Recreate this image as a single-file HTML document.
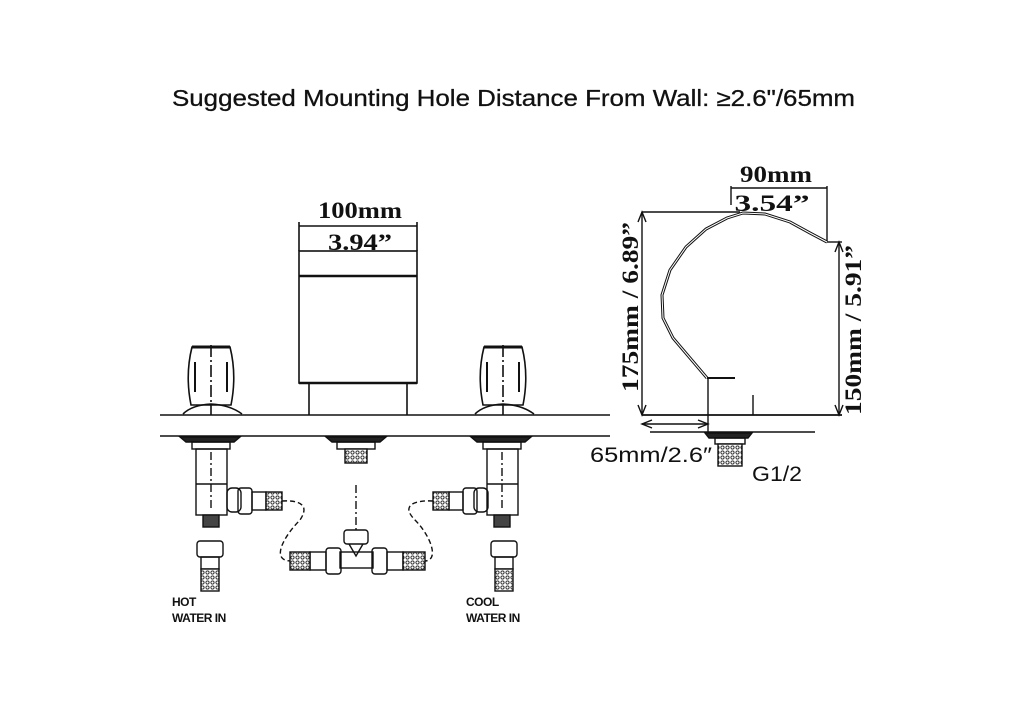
<!DOCTYPE html>
<html><head><meta charset="utf-8"><style>
html,body{margin:0;padding:0;background:#fff;}
svg{display:block}
</style></head><body>
<svg width="1024" height="717" viewBox="0 0 1024 717" xmlns="http://www.w3.org/2000/svg">
<defs>
<pattern id="mesh" width="5" height="5" patternUnits="userSpaceOnUse">
<rect width="5" height="5" fill="#fff"/><circle cx="2.5" cy="2.5" r="1.6" fill="none" stroke="#222" stroke-width="0.9"/>
</pattern>
</defs>
<text x="172" y="106" textLength="683" lengthAdjust="spacingAndGlyphs" font-family="Liberation Sans, sans-serif" font-size="23" fill="#111" stroke="#111" stroke-width="0.3">Suggested Mounting Hole Distance From Wall: ≥2.6"/65mm</text>

<g fill="none" stroke="#111" stroke-width="1.6">
<line x1="160" y1="415" x2="610" y2="415"/>
<line x1="160" y1="436" x2="610" y2="436"/>
<rect x="299" y="251" width="118" height="132"/>
<line x1="299" y1="276" x2="417" y2="276" stroke-width="2.5"/>
<line x1="299" y1="383" x2="417" y2="383" stroke-width="2.5"/>
<line x1="309" y1="383" x2="309" y2="415"/>
<line x1="407" y1="383" x2="407" y2="415"/>
<line x1="299" y1="222" x2="299" y2="251"/>
<line x1="417" y1="222" x2="417" y2="251"/>
<line x1="299" y1="226" x2="417" y2="226"/>
</g>
<g font-family="Liberation Serif, serif" font-size="23" font-weight="bold" fill="#111" text-anchor="middle">
<text x="360" y="218" textLength="84" lengthAdjust="spacingAndGlyphs">100mm</text>
<text x="360" y="250" textLength="64" lengthAdjust="spacingAndGlyphs">3.94”</text>
</g>

<g fill="none" stroke="#111" stroke-width="1.6">
<g>
<path d="M192 347 Q185 375 191 405 L231 405 Q237 375 230 347 Z" fill="#fff"/>
<line x1="192" y1="347" x2="230" y2="347" stroke-width="3"/>
<line x1="195" y1="362" x2="195" y2="392" stroke-width="2"/>
<line x1="227" y1="362" x2="227" y2="392" stroke-width="2"/>
<line x1="211" y1="345" x2="211" y2="415" stroke-dasharray="12 3 2 3"/>
<path d="M183 414 Q192 405 211 404 Q230 405 242 414"/>
</g>
<g transform="translate(292,0)">
<path d="M192 347 Q185 375 191 405 L231 405 Q237 375 230 347 Z" fill="#fff"/>
<line x1="192" y1="347" x2="230" y2="347" stroke-width="3"/>
<line x1="195" y1="362" x2="195" y2="392" stroke-width="2"/>
<line x1="227" y1="362" x2="227" y2="392" stroke-width="2"/>
<line x1="211" y1="345" x2="211" y2="415" stroke-dasharray="12 3 2 3"/>
<path d="M183 414 Q192 405 211 404 Q230 405 242 414"/>
</g>
</g>

<g fill="none" stroke="#111" stroke-width="1.4">
<g>
<path d="M180 437 L240 437 L234 442 L186 442 Z" fill="#222"/>
<rect x="192" y="442" width="38" height="7"/>
<rect x="196" y="449" width="31" height="66"/>
<line x1="196" y1="484" x2="227" y2="484"/>
<line x1="211" y1="452" x2="211" y2="510" stroke-dasharray="8 3 2 3"/>
<rect x="203" y="515" width="16" height="12" fill="#444"/>
<rect x="227" y="488" width="14" height="24" rx="5"/>
<rect x="238" y="488" width="14" height="26" rx="3"/>
<rect x="252" y="492" width="14" height="18"/>
<rect x="266" y="492" width="16" height="18" fill="url(#mesh)"/>
<rect x="197" y="541" width="26" height="16" rx="3"/>
<rect x="201" y="557" width="18" height="12"/>
<rect x="201" y="569" width="18" height="22" fill="url(#mesh)"/>
</g>
<g>
<path d="M471 437 L531 437 L525 442 L477 442 Z" fill="#222"/>
<rect x="483" y="442" width="38" height="7"/>
<rect x="487" y="449" width="31" height="66"/>
<line x1="487" y1="484" x2="518" y2="484"/>
<line x1="502" y1="452" x2="502" y2="510" stroke-dasharray="8 3 2 3"/>
<rect x="494" y="515" width="16" height="12" fill="#444"/>
<rect x="474" y="488" width="14" height="24" rx="5"/>
<rect x="463" y="488" width="14" height="26" rx="3"/>
<rect x="449" y="492" width="14" height="18"/>
<rect x="433" y="492" width="16" height="18" fill="url(#mesh)"/>
<rect x="491" y="541" width="26" height="16" rx="3"/>
<rect x="495" y="557" width="18" height="12"/>
<rect x="495" y="569" width="18" height="22" fill="url(#mesh)"/>
</g>
<path d="M326 437 L386 437 L380 442 L332 442 Z" fill="#222"/>
<rect x="337" y="442" width="38" height="7"/>
<rect x="345" y="449" width="22" height="14" fill="url(#mesh)"/>
<line x1="356" y1="485" x2="356" y2="530" stroke-dasharray="8 3 2 3"/>
<rect x="344" y="530" width="24" height="14" rx="3"/>
<path d="M349 544 L356 556 L363 544"/>
<rect x="340" y="552" width="33" height="16"/>
<rect x="326" y="548" width="15" height="26" rx="3"/>
<rect x="372" y="548" width="15" height="26" rx="3"/>
<rect x="310" y="552" width="16" height="18"/>
<rect x="387" y="552" width="16" height="18"/>
<rect x="290" y="552" width="20" height="18" fill="url(#mesh)"/>
<rect x="403" y="552" width="22" height="18" fill="url(#mesh)"/>
<path d="M282 501 C300 500 310 505 300 520 C285 535 270 560 290 561" stroke-dasharray="5 3"/>
<path d="M433 501 C415 500 400 505 415 520 C430 535 440 560 425 561" stroke-dasharray="5 3"/>
</g>
<g font-family="Liberation Sans, sans-serif" font-size="12" font-weight="bold" fill="#111" letter-spacing="-0.5">
<text x="172" y="606">HOT</text>
<text x="172" y="622">WATER IN</text>
<text x="466" y="606">COOL</text>
<text x="466" y="622">WATER IN</text>
</g>

<g fill="none" stroke="#111" stroke-width="1.4">
<line x1="642" y1="212" x2="740" y2="212"/>
<line x1="642" y1="212" x2="642" y2="415"/>
<path d="M638 222 L642 212 L646 222 M638 405 L642 415 L646 405"/>
<line x1="642" y1="415" x2="842" y2="415" stroke-width="1.8"/>
<line x1="650" y1="432" x2="815" y2="432"/>
<line x1="826" y1="242" x2="842" y2="242"/>
<line x1="839" y1="242" x2="839" y2="415"/>
<path d="M835 252 L839 242 L843 252 M835 405 L839 415 L843 405"/>
<line x1="731" y1="186" x2="731" y2="205"/>
<line x1="827" y1="186" x2="827" y2="242"/>
<line x1="731" y1="188" x2="827" y2="188"/>
<path d="M707 378 L690 358 L673 338 L663 318 L662 295 L670 270 L686 247 L706 229 L727 218 L743 213 L765 214 L790 222 L810 233 L827 242" stroke-width="3"/>
<path d="M707 378 L690 358 L673 338 L663 318 L662 295 L670 270 L686 247 L706 229 L727 218 L743 213 L765 214 L790 222 L810 233 L827 242" stroke="#fff" stroke-width="1"/>
<line x1="707" y1="378" x2="735" y2="378" stroke-width="2"/>
<line x1="708" y1="378" x2="708" y2="432"/>
<line x1="753" y1="395" x2="753" y2="415"/>
<line x1="642" y1="424" x2="708" y2="424"/>
<path d="M652 420 L642 424 L652 428 M698 420 L708 424 L698 428"/>
<path d="M705 433 L752 433 L748 438 L709 438 Z" fill="#222"/>
<rect x="715" y="438" width="30" height="6"/>
<rect x="718" y="444" width="24" height="22" fill="url(#mesh)"/>
</g>
<g font-family="Liberation Serif, serif" font-size="23" font-weight="bold" fill="#111" text-anchor="middle">
<text x="776" y="182" textLength="72" lengthAdjust="spacingAndGlyphs">90mm</text>
<text x="772" y="211" textLength="75" lengthAdjust="spacingAndGlyphs">3.54”</text>
<text transform="translate(638,307) rotate(-90)" textLength="170" lengthAdjust="spacingAndGlyphs">175mm / 6.89”</text>
<text transform="translate(861,330) rotate(-90)" textLength="170" lengthAdjust="spacingAndGlyphs">150mm / 5.91”</text>
</g>
<g font-family="Liberation Sans, sans-serif" font-size="21" fill="#111">
<text x="590" y="462" textLength="122" lengthAdjust="spacingAndGlyphs">65mm/2.6″</text>
<text x="752" y="481" textLength="50" lengthAdjust="spacingAndGlyphs">G1/2</text>
</g>
</svg>
</body></html>
